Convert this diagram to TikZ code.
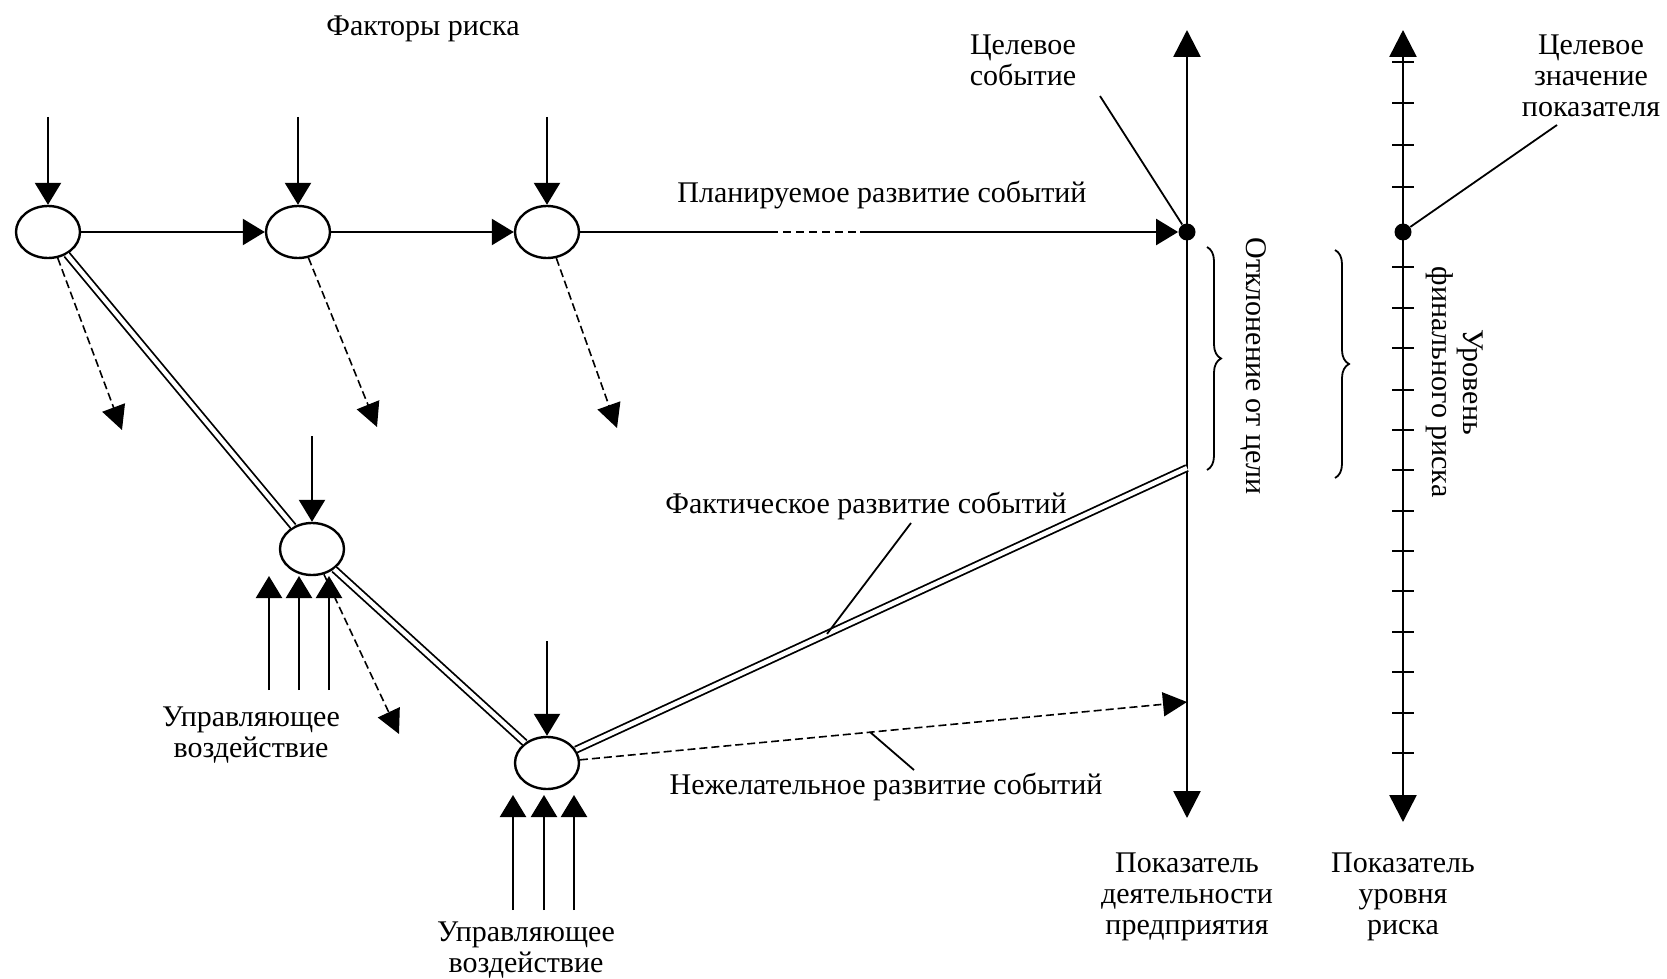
\documentclass[tikz,border=0pt]{standalone}
\usepackage{fontspec}
\setmainfont{Liberation Serif}
\usetikzlibrary{arrows.meta,shapes.geometric,decorations.pathreplacing,calc}
\begin{document}
\begin{tikzpicture}[x=0.5pt,y=-0.5pt,
  ev/.style={ellipse,draw,line width=1.2pt,minimum width=32pt,minimum height=26pt,inner sep=0pt,fill=white},
  flow/.style={line width=1.2pt,-{Triangle[length=11pt,width=13pt]}},
  risk/.style={line width=0.8pt,dash pattern=on 4pt off 2pt,-{Triangle[length=12pt,width=12pt]}},
  dbl/.style={double,double distance=2.2pt,line width=0.9pt},
  axisline/.style={line width=1.3pt,{Triangle[length=13.5pt,width=13.5pt]}-{Triangle[length=13.5pt,width=13.5pt]}},
  pointer/.style={line width=0.9pt},
  lbl/.style={font=\fontsize{15}{15.5}\selectfont,align=center,inner sep=0pt},
  dotn/.style={circle,fill,inner sep=0pt,minimum size=8.5pt},
  brc/.style={decorate,decoration={brace,amplitude=7pt},line width=0.9pt}
]
\useasboundingbox (0,0) rectangle (1667,979);

% event nodes
\node[ev] (n1) at (48,232) {};
\node[ev] (n2) at (298,232) {};
\node[ev] (n3) at (547,232) {};
\node[ev] (n4) at (312,549) {};
\node[ev] (n5) at (547,763) {};

% axes
\coordinate (a1t) at (1187,30);
\coordinate (a1b) at (1187,818);
\coordinate (a2t) at (1403,30);
\coordinate (a2b) at (1403,822);
\draw[axisline] (a1b) -- (a1t);
\draw[axisline] (a2b) -- (a2t);
\foreach \y in {62,103,145,187,267,308,348,390,430,470,511,551,591,632,672,713,753}
  \draw[line width=1.2pt] (1392,\y) -- (1414,\y);
\node[dotn] (g1) at (1187,232) {};
\node[dotn] (g2) at (1403,232) {};

% risk factor inputs
\coordinate (f1) at (48,117);
\coordinate (f2) at (298,117);
\coordinate (f3) at (547,117);
\coordinate (f4) at (312,436);
\coordinate (f5) at (547,641);
\draw[flow] (f1) -- (n1);
\draw[flow] (f2) -- (n2);
\draw[flow] (f3) -- (n3);
\draw[flow] (f4) -- (n4);
\draw[flow] (f5) -- (n5);

% planned development
\draw[flow] (n1) -- (n2);
\draw[flow] (n2) -- (n3);
\coordinate (p1) at (770,232);
\coordinate (p2) at (860,232);
\draw[line width=1.2pt] (n3) -- (p1);
\draw[line width=1.2pt,dash pattern=on 4pt off 2.5pt] (p1) -- (p2);
\draw[flow] (p2) -- (g1);

% risk outputs (dashed)
\coordinate (d1) at (122,430);
\coordinate (d2) at (377,427);
\coordinate (d3) at (617,428);
\coordinate (d4) at (399,734);
\draw[risk] (n1) -- (d1);
\draw[risk] (n2) -- (d2);
\draw[risk] (n3) -- (d3);
\draw[risk] (n4) -- (d4);

% actual development (double line)
\coordinate (fact) at (1187,468);
\draw[dbl] (n1) -- (n4);
\draw[dbl] (n4) -- (n5);
\draw[dbl] (n5) -- (fact);

% undesired development
\coordinate (und) at (1187,702);
\draw[risk] (n5) -- (und);

% control actions
\foreach \i/\x in {a/269,b/299,c/329}
  {\coordinate (c4\i) at (\x,690); \draw[flow] (c4\i) -- (\x,576);}
\foreach \i/\x in {a/513,b/544,c/574}
  {\coordinate (c5\i) at (\x,910); \draw[flow] (c5\i) -- (\x,795);}

% braces
\draw[brc] (1207,247) -- (1207,470);
\draw[brc] (1335,250) -- (1335,478);

% labels
\node[lbl] (tf) at (423,29) {Факторы риска};
\node[lbl] (tplan) at (882,195) {Планируемое развитие событий};
\node[lbl] (tfact) at (866,506) {Фактическое развитие событий};
\node[lbl] (tund) at (886,787) {Нежелательное развитие событий};
\node[lbl] (tgoal) at (1023,60) {Целевое\\событие};
\node[lbl] (tgoal2) at (1591,76) {Целевое\\значение\\показателя};
\node[lbl] (tc1) at (251,735) {Управляющее\\воздействие};
\node[lbl] (tc2) at (526,950) {Управляющее\\воздействие};
\node[lbl] (tax1) at (1187,897) {Показатель\\деятельности\\предприятия};
\node[lbl] (tax2) at (1403,897) {Показатель\\уровня\\риска};
\node[lbl,rotate=-90] (tdev) at (1254,366) {Отклонение от цели};
\node[lbl,rotate=-90] (tlev) at (1455,382) {Уровень\\финального риска};

% pointers
\coordinate (pg1) at (1100,96);
\draw[pointer] (pg1) -- (g1);
\coordinate (pg2) at (1557,125);
\draw[pointer] (pg2) -- (g2);
\coordinate (pf) at (911,523);
\draw[pointer] (pf) -- ($(n5.center)!0.4375!(fact)$);
\coordinate (pu) at (914,770);
\draw[pointer] (pu) -- ($(n5.center)!0.505!(und)$);
\end{tikzpicture}
\end{document}
